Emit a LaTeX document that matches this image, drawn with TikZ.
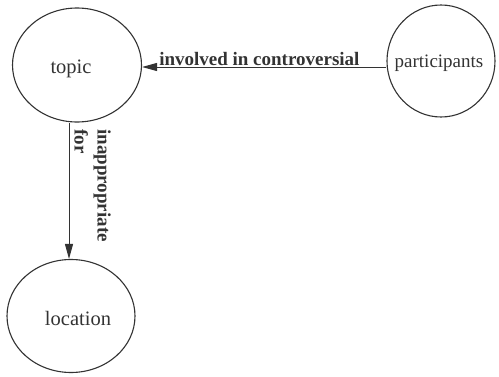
\documentclass[tikz,border=0pt]{standalone}
\usepackage{fontspec}
\setmainfont{Liberation Serif}
\usetikzlibrary{shapes.geometric,arrows.meta}
\tikzset{
  concept/.style={ellipse, draw=black!80, line width=1.1pt, inner sep=0pt},
  word/.style={font=\fontsize{20.5}{22}\selectfont, text=black!80},
  rel/.style={font=\bfseries\fontsize{19}{23}\selectfont, text=black!80},
  link/.style={draw=black!80, line width=1pt, -{Triangle[length=15pt,width=8pt]}},
}
\begin{document}
\begin{tikzpicture}[x=1pt,y=1pt]
  \useasboundingbox (0,0) rectangle (499,376);
  % concepts
  \node[concept, minimum width=129pt, minimum height=114pt,
        label={[word, name=topiclbl, xshift=-6pt, yshift=-4pt]center:topic}]
        (topic) at (77,311) {};
  \node[concept, minimum width=108pt, minimum height=112pt,
        label={[word, font=\fontsize{19}{22}\selectfont, name=partlbl, xshift=-2pt, yshift=-2pt]center:participants}]
        (participants) at (441,315) {};
  \node[concept, minimum width=128pt, minimum height=113pt,
        label={[word, name=loclbl, xshift=7pt, yshift=-2pt]center:location}]
        (location) at (71,60) {};
  % relations
  \draw[link] ([yshift=-6pt]participants.west) -- ([yshift=-2pt]topic.east)
    node[rel, pos=0.52, anchor=base, yshift=2pt] (rel1) {involved in controversial};
  \draw[link] ([xshift=-8pt]topic.south) -- ([xshift=-2pt]location.north);
  \node[rel, rotate=-90, align=left, anchor=north west, inner sep=0pt]
    (rel2) at (111,247) {inappropriate\\for};
\end{tikzpicture}
\end{document}
